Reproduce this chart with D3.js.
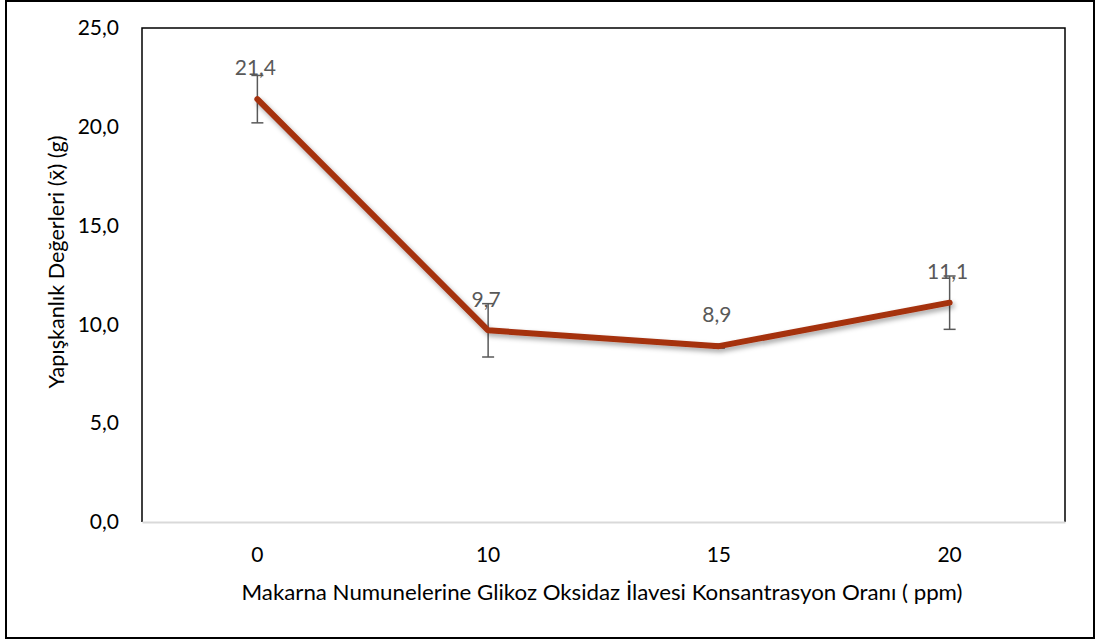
<!DOCTYPE html>
<html>
<head>
<meta charset="utf-8">
<script src="https://cdn.jsdelivr.net/npm/d3@7"></script>
<style>
  body { margin: 0; background: #fff; }
  svg { display: block; font-family: Lato, "Open Sans", sans-serif; }
</style>
</head>
<body>
<svg width="1099" height="643"></svg>
<script>
// doses (ppm) and adhesiveness means with error bars
var categories = ["0", "10", "15", "20"];
var values = [21.4, 9.7, 8.9, 11.1];
var errors = [1.2, 1.35, 0.1, 1.35];
var yTicks = [0, 5, 10, 15, 20, 25];

var svg = d3.select("svg"),
    width = +svg.attr("width"),
    height = +svg.attr("height");

var margin = {left: 142, top: 28, right: 1065, bottom: 522};
var fs = 21;

// outer frame
svg.append("rect")
    .attr("x", 6).attr("y", 1)
    .attr("width", 1088).attr("height", 637)
    .attr("fill", "none")
    .attr("stroke", "#000")
    .attr("stroke-width", 2);

var x = d3.scaleBand()
    .domain(categories)
    .range([margin.left, margin.right]);

var y = d3.scaleLinear()
    .domain([0, 25])
    .range([margin.bottom, margin.top]);

var fmt = function(v) { return d3.format(".1f")(v).replace(".", ","); };

// plot area border: top, left, right black; bottom = light axis
svg.append("path")
    .attr("d", "M" + margin.left + "," + margin.bottom + "V" + margin.top + "H" + margin.right + "V" + margin.bottom)
    .attr("fill", "none")
    .attr("stroke", "#000")
    .attr("stroke-width", 1.5);

var xAxis = svg.append("g")
    .attr("transform", "translate(0," + margin.bottom + ")")
    .call(d3.axisBottom(x).tickSize(0).tickPadding(25));
xAxis.select(".domain").attr("stroke", "#d9d9d9").attr("stroke-width", 2);
xAxis.selectAll("text").attr("font-size", fs).attr("fill", "#000")
    .attr("font-family", "Lato, sans-serif");

var yAxis = svg.append("g")
    .attr("transform", "translate(" + margin.left + ",0)")
    .call(d3.axisLeft(y).tickValues(yTicks).tickFormat(fmt).tickSize(0).tickPadding(23));
yAxis.select(".domain").remove();
yAxis.selectAll("text").attr("font-size", fs).attr("fill", "#000")
    .attr("font-family", "Lato, sans-serif");

// shadow for the line
var defs = svg.append("defs");
var f = defs.append("filter").attr("id", "shadow")
    .attr("x", "-10%").attr("y", "-10%").attr("width", "120%").attr("height", "130%");
f.append("feDropShadow")
    .attr("dx", 2).attr("dy", 3).attr("stdDeviation", 2.5)
    .attr("flood-color", "#000").attr("flood-opacity", 0.35);

var cx = function(d, i) { return x(categories[i]) + x.bandwidth() / 2; };

// error bars
var eb = svg.append("g").attr("stroke", "#595959").attr("stroke-width", 1.5);
values.forEach(function(v, i) {
  var px = cx(v, i);
  var top = y(v + errors[i]), bot = y(v - errors[i]);
  eb.append("line").attr("x1", px).attr("x2", px).attr("y1", top).attr("y2", bot);
  eb.append("line").attr("x1", px - 6).attr("x2", px + 6).attr("y1", top).attr("y2", top);
  eb.append("line").attr("x1", px - 6).attr("x2", px + 6).attr("y1", bot).attr("y2", bot);
});

var line = d3.line()
    .x(function(d, i) { return cx(d, i); })
    .y(function(d) { return y(d); });

svg.append("path")
    .datum(values)
    .attr("d", line)
    .attr("fill", "none")
    .attr("stroke", "#a5300f")
    .attr("stroke-width", 6)
    .attr("stroke-linecap", "round")
    .attr("stroke-linejoin", "round")
    .attr("filter", "url(#shadow)");

// data labels
svg.append("g").selectAll("text")
    .data(values)
    .enter().append("text")
      .attr("x", function(d, i) { return cx(d, i) - 2; })
      .attr("y", function(d) { return y(d) - 31; })
      .attr("dy", "0.35em")
      .attr("text-anchor", "middle")
      .attr("font-size", fs)
      .attr("fill", "#595959")
      .text(fmt);

// axis titles
svg.append("text")
    .attr("x", 602).attr("y", 593)
    .attr("dy", "0.35em")
    .attr("text-anchor", "middle")
    .attr("font-size", fs)
    .attr("fill", "#000")
    .attr("textLength", 721)
    .attr("lengthAdjust", "spacingAndGlyphs")
    .text("Makarna Numunelerine Glikoz Oksidaz İlavesi Konsantrasyon Oranı ( ppm)");

svg.append("text")
    .attr("transform", "translate(57,262) rotate(-90)")
    .attr("dy", "0.35em")
    .attr("text-anchor", "middle")
    .attr("font-size", fs)
    .attr("fill", "#000")
    .attr("textLength", 253)
    .attr("lengthAdjust", "spacingAndGlyphs")
    .text("Yapışkanlık Değerleri (x̄) (g)");
</script>
</body>
</html>
